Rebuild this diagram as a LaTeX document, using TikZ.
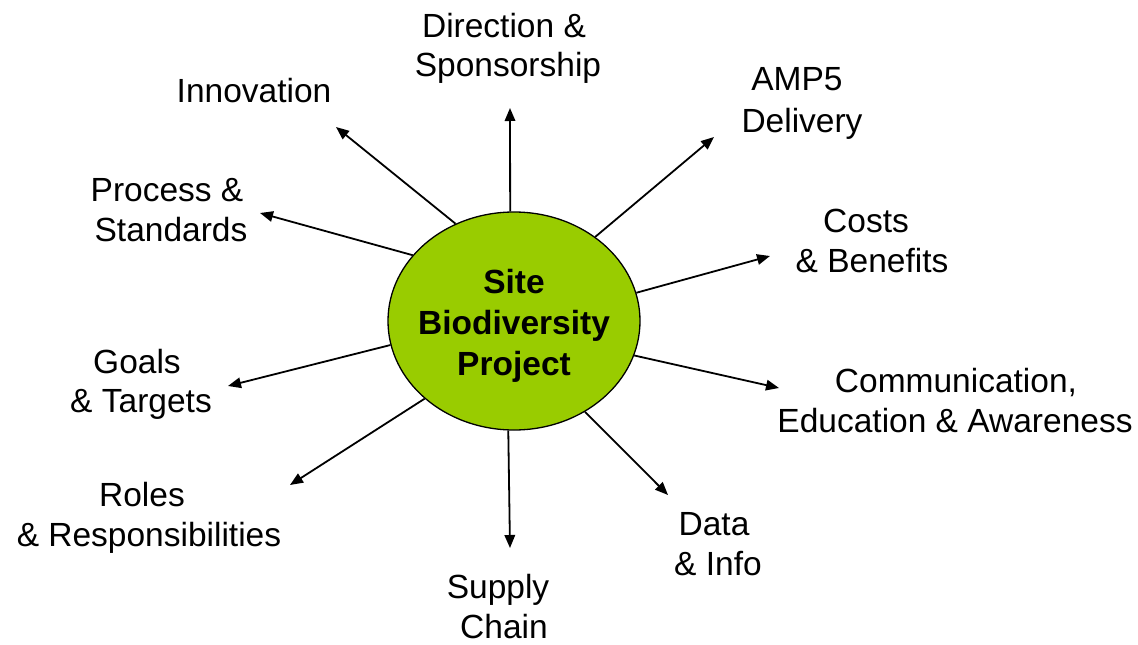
\documentclass[tikz,border=0pt]{standalone}
\usepackage{fontspec}
\setmainfont{Liberation Sans}
\usetikzlibrary{shapes.geometric,arrows.meta}
\definecolor{hub}{RGB}{153,204,0}
\begin{document}
\begin{tikzpicture}[x=1pt,y=-1pt,
  lbl/.style={anchor=base,inner sep=0pt,font=\fontsize{33.5}{40}\selectfont},
  hubtxt/.style={anchor=base,inner sep=0pt,font=\fontsize{33.5}{41}\selectfont\bfseries},
  link/.style={line width=1.8pt,-{Triangle[length=13pt,width=10.5pt]}},
  hubshape/.style={ellipse,draw=black,line width=1.3pt,fill=hub,minimum width=252pt,minimum height=218pt,inner sep=0pt}]
\useasboundingbox (0,0) rectangle (1138,645);
% hub
\node[hubshape] (c) at (514,321) {};
\node[hubtxt] (h1) at (514,293) {Site};
\node[hubtxt] (h2) at (514,334) {Biodiversity};
\node[hubtxt] (h3) at (514,375) {Project};
% labels
\node[lbl] (dir1) at (504,37) {Direction \&};
\node[lbl] (dir2) at (508,76) {Sponsorship};
\node[lbl] (amp1) at (797,90) {AMP5};
\node[lbl] (amp2) at (802,132) {Delivery};
\node[lbl] (inn) at (254,102) {Innovation};
\node[lbl] (pro1) at (167,201) {Process \&};
\node[lbl] (pro2) at (171,241) {Standards};
\node[lbl] (cos1) at (866,232) {Costs};
\node[lbl] (cos2) at (872,272) {\& Benefits};
\node[lbl] (goa1) at (137,373) {Goals};
\node[lbl] (goa2) at (141,412) {\& Targets};
\node[lbl] (com1) at (956,392) {Communication,};
\node[lbl] (com2) at (955,432) {Education \& Awareness};
\node[lbl] (rol1) at (142,506) {Roles};
\node[lbl] (rol2) at (149,546) {\& Responsibilities};
\node[lbl] (dat1) at (714,535) {Data};
\node[lbl] (dat2) at (718,575) {\& Info};
\node[lbl] (sup1) at (498,598) {Supply};
\node[lbl] (sup2) at (504,638) {Chain};
% arrow tips
\coordinate (tDir) at (510,108);
\coordinate (tAmp) at (714,137);
\coordinate (tInn) at (336,127);
\coordinate (tPro) at (260,213);
\coordinate (tCos) at (770,256);
\coordinate (tGoa) at (228,386);
\coordinate (tCom) at (779,388);
\coordinate (tRol) at (290,485);
\coordinate (tSup) at (510,548);
\coordinate (tDat) at (668,495);
% connectors
\draw[link] (c.92.1) -- (tDir);
\draw[link] (c.46.4) -- (tAmp);
\draw[link] (c.121.6) -- (tInn);
\draw[link] (c.147.9) -- (tPro);
\draw[link] (c.13.6) -- (tCos);
\draw[link] (c.191) -- (tGoa);
\draw[link] (c.344.2) -- (tCom);
\draw[link] (c.221) -- (tRol);
\draw[link] (c.267.9) -- (tSup);
\draw[link] (c.308.9) -- (tDat);
\end{tikzpicture}
\end{document}
